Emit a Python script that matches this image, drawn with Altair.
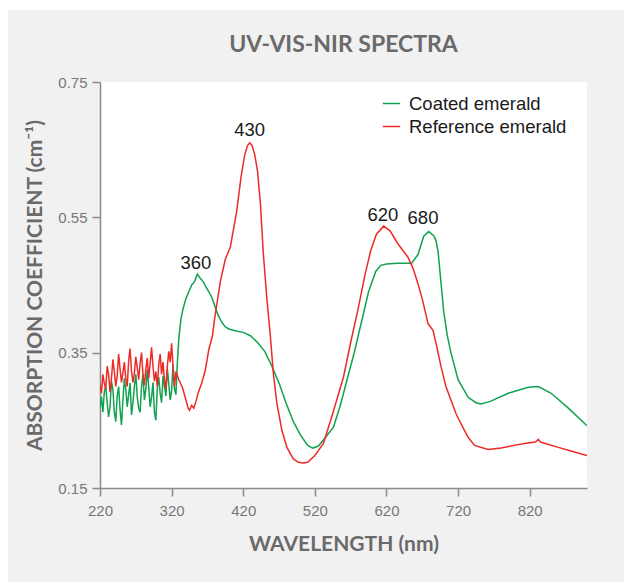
import altair as alt
import pandas as pd

# ---------------- data ----------------
coated_nm = list(range(220, 328, 2)) + [
    328, 330, 333, 336, 340, 344, 348, 352, 356, 360, 364, 368, 372, 376, 380,
    385, 390, 395, 400, 410, 420, 430, 440, 450, 460, 470, 480, 490, 500, 510,
    517, 525, 535, 546, 555, 565, 575, 585, 595, 605, 612, 620, 635, 655, 664,
    672, 679, 686, 689, 692, 696, 700, 705, 710, 720, 734, 745, 752, 765, 790,
    818, 832, 850, 874, 900]
coated_val = [
    0.268, 0.285, 0.262, 0.292, 0.300, 0.276, 0.255, 0.270, 0.308, 0.296,
    0.262, 0.248, 0.286, 0.300, 0.266, 0.243, 0.280, 0.312, 0.296, 0.270,
    0.288, 0.305, 0.258, 0.276, 0.300, 0.318, 0.285, 0.268, 0.262, 0.300,
    0.318, 0.280, 0.296, 0.325, 0.300, 0.270, 0.284, 0.306, 0.262, 0.250,
    0.298, 0.314, 0.290, 0.276, 0.316, 0.300, 0.286, 0.326, 0.304, 0.280,
    0.294, 0.332, 0.296, 0.288,
    0.335, 0.370, 0.400, 0.415, 0.430, 0.440, 0.450, 0.455, 0.466, 0.460,
    0.455, 0.447, 0.440, 0.432, 0.420, 0.405, 0.395, 0.388, 0.385, 0.382,
    0.380, 0.375, 0.365, 0.352, 0.330, 0.305, 0.275, 0.248, 0.228, 0.213,
    0.209, 0.212, 0.225, 0.240, 0.270, 0.310, 0.350, 0.395, 0.440, 0.470,
    0.479, 0.481, 0.482, 0.482, 0.495, 0.522, 0.529, 0.523, 0.516, 0.500,
    0.455, 0.410, 0.375, 0.350, 0.310, 0.284, 0.276, 0.274, 0.278, 0.290,
    0.299, 0.300, 0.290, 0.268, 0.242]

ref_nm = list(range(220, 328, 2)) + [
    330, 335, 340, 343, 345, 348, 351, 354, 357, 362, 367, 372, 377, 380, 388,
    395, 402, 411, 417, 422, 426, 429, 432, 436, 440, 444, 448, 453, 458, 462,
    467, 474, 481, 490, 497, 503, 510, 520, 532, 545, 560, 570, 580, 590, 598,
    606, 616, 625, 636, 650, 657, 664, 671, 678, 685, 690, 696, 703, 710, 717,
    724, 734, 743, 762, 780, 798, 815, 828, 832, 835, 860, 880, 900]
ref_val = [
    0.302, 0.290, 0.318, 0.305, 0.296, 0.330, 0.318, 0.292, 0.312, 0.340,
    0.322, 0.300, 0.316, 0.348, 0.326, 0.306, 0.320, 0.336, 0.312, 0.300,
    0.338, 0.356, 0.322, 0.306, 0.320, 0.344, 0.328, 0.310, 0.334, 0.350,
    0.318, 0.302, 0.326, 0.342, 0.312, 0.334, 0.358, 0.330, 0.308, 0.322,
    0.300, 0.332, 0.348, 0.318, 0.336, 0.310, 0.296, 0.330, 0.352, 0.336,
    0.364, 0.330, 0.300, 0.322,
    0.310, 0.299, 0.280, 0.268, 0.265, 0.272, 0.268, 0.278, 0.290, 0.305,
    0.324, 0.355, 0.375, 0.400, 0.455, 0.488, 0.506, 0.560, 0.610, 0.642,
    0.656, 0.660, 0.657, 0.643, 0.618, 0.570, 0.497, 0.430, 0.373, 0.320,
    0.275, 0.235, 0.210, 0.193, 0.188, 0.187, 0.188, 0.198, 0.216, 0.260,
    0.314, 0.365, 0.413, 0.465, 0.501, 0.525, 0.537, 0.530, 0.511, 0.491,
    0.475, 0.452, 0.425, 0.393, 0.383, 0.360, 0.330, 0.300, 0.280, 0.260,
    0.245, 0.225, 0.213, 0.207, 0.209, 0.213, 0.216, 0.218, 0.222, 0.218,
    0.210, 0.204, 0.198]

series_names = ["Coated emerald", "Reference emerald"]
series_colors = ["#12a150", "#ee2a26"]

peak_labels = ["360", "430", "620", "680"]
peak_nm = [354, 429, 615, 671]
peak_val = [0.483, 0.679, 0.554, 0.549]

x_ticks = [220, 320, 420, 520, 620, 720, 820]
y_ticks = [0.15, 0.35, 0.55, 0.75]

chart_title = "UV-VIS-NIR SPECTRA"

# ---------------- tables ----------------
df = pd.concat([
    pd.DataFrame({"nm": coated_nm, "val": coated_val, "series": series_names[0], "order": 1}),
    pd.DataFrame({"nm": ref_nm, "val": ref_val, "series": series_names[1], "order": 0}),
])
labels_df = pd.DataFrame({"nm": peak_nm, "val": peak_val, "label": peak_labels})
title_df = pd.DataFrame({"t": [chart_title]})
one = pd.DataFrame({"a": [0]})

W, H = 487, 406

# white page margin strips (top and left) around the grey panel
top_strip = alt.Chart(one).mark_rect(color="white").encode(
    x=alt.value(-100), x2=alt.value(530), y=alt.value(-82), y2=alt.value(-72))
left_strip = alt.Chart(one).mark_rect(color="white").encode(
    x=alt.value(-100), x2=alt.value(-92), y=alt.value(-82), y2=alt.value(510))

title = alt.Chart(title_df).mark_text(
    font="Lato", fontSize=23, fontWeight="bold", color="#6a6a6a",
    align="center", baseline="middle"
).encode(x=alt.value(W / 2), y=alt.value(-37), text="t:N")

xscale = alt.Scale(domain=[220, 900], nice=False, zero=False)
yscale = alt.Scale(domain=[0.15, 0.75], nice=False, zero=False)

lines = alt.Chart(df).mark_line(strokeWidth=1.5, clip=True).encode(
    x=alt.X("nm:Q", scale=xscale,
            axis=alt.Axis(values=x_ticks, title="WAVELENGTH (nm)", format="d")),
    y=alt.Y("val:Q", scale=yscale,
            axis=alt.Axis(values=y_ticks, title="ABSORPTION COEFFICIENT (cm⁻¹)",
                          format=".2f")),
    color=alt.Color("series:N",
                    scale=alt.Scale(domain=series_names, range=series_colors),
                    legend=alt.Legend(title=None, orient="none", legendX=282, legendY=12,
                                      symbolType="stroke", symbolSize=300,
                                      symbolStrokeWidth=1.5, labelFontSize=18.5,
                                      labelFont="Liberation Sans", labelColor="#1a1a1a",
                                      rowPadding=4, labelOffset=8)),
    detail="series:N",
    order=alt.Order("order:Q"),
)

texts = alt.Chart(labels_df).mark_text(
    fontSize=18.5, font="Liberation Sans", color="#1a1a1a", baseline="middle"
).encode(x=alt.X("nm:Q", scale=xscale), y=alt.Y("val:Q", scale=yscale), text="label:N")

chart = alt.layer(lines, texts, title, top_strip, left_strip).properties(
    width=W, height=H,
    autosize=alt.AutoSizeParams(type="none"),
    padding={"left": 100, "top": 82, "right": 37, "bottom": 94},
    background="#f1f1f1",
).configure_view(stroke=None, fill="white").configure_axis(
    grid=False, domainColor="#8a8a8a", tickColor="#8a8a8a", domainWidth=1.5,
    tickWidth=1.5, tickSize=8, labelColor="#777777", labelFontSize=15,
    labelFont="Liberation Sans", titleFont="Lato", titleFontWeight="bold",
    titleFontSize=21, titleColor="#6a6a6a", labelFlush=False,
).configure_axisX(labelPadding=7, titlePadding=15).configure_axisY(labelPadding=5, titlePadding=12)

chart.save("out.html", embed_options={"renderer": "svg", "actions": False})
